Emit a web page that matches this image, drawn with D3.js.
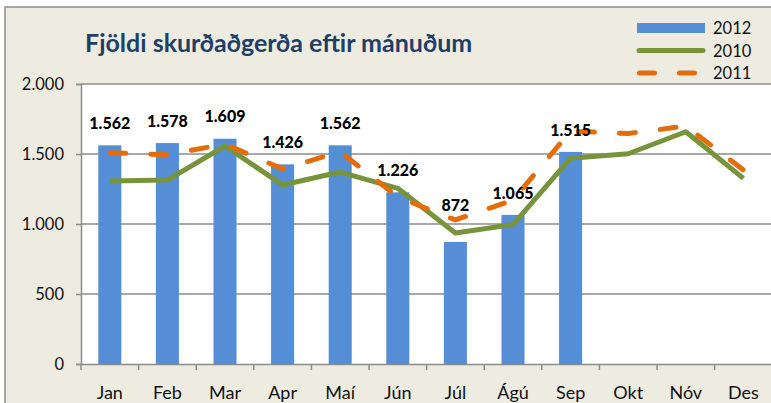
<!DOCTYPE html>
<html>
<head>
<meta charset="utf-8">
<script src="https://cdn.jsdelivr.net/npm/d3@7"></script>
<style>
  body { margin: 0; background: #fff; }
  svg { display: block; font-family: Lato, 'Open Sans', sans-serif; }
</style>
</head>
<body>
<div id="chart"></div>
<script>
const months = ['Jan', 'Feb', 'Mar', 'Apr', 'Maí', 'Jún', 'Júl', 'Ágú', 'Sep', 'Okt', 'Nóv', 'Des'];
const values2012 = [1562, 1578, 1609, 1426, 1562, 1226, 872, 1065, 1515];
const values2010 = [1307, 1314, 1557, 1279, 1371, 1255, 936, 996, 1470, 1502, 1659, 1326];
const values2011 = [1509, 1495, 1571, 1393, 1516, 1193, 1029, 1171, 1664, 1646, 1700, 1386];
const yTicks = [0, 500, 1000, 1500, 2000];
const title = 'Fjöldi skurðaðgerða eftir mánuðum';

const width = 771;
const height = 403;
const plot = { left: 81, top: 84, right: 81 + 12 * 57.6, bottom: 364 };

const fmt = d3.formatLocale({ decimal: ',', thousands: '.', grouping: [3], currency: ['', ''] }).format(',d');

const x = d3
  .scaleBand()
  .domain(months)
  .range([plot.left, plot.right])
  .paddingInner(0.6)
  .paddingOuter(0.3);

const y = d3.scaleLinear().domain([0, 2000]).range([plot.bottom, plot.top]);

const svg = d3
  .select('#chart')
  .append('svg')
  .attr('width', width)
  .attr('height', height);

// chart background + frame
svg.append('rect')
  .attr('x', 5).attr('y', 7)
  .attr('width', width).attr('height', height)
  .attr('fill', '#eeece1')
  .attr('stroke', '#8c8c8c')
  .attr('stroke-width', 1.5);

// plot area
svg.append('rect')
  .attr('x', plot.left).attr('y', plot.top)
  .attr('width', plot.right - plot.left).attr('height', plot.bottom - plot.top)
  .attr('fill', '#fff');

// gridlines
svg.append('g')
  .selectAll('line')
  .data(yTicks.filter((d) => d > 0))
  .join('line')
  .attr('x1', plot.left).attr('x2', plot.right)
  .attr('y1', (d) => y(d)).attr('y2', (d) => y(d))
  .attr('stroke', '#8c8c8c')
  .attr('stroke-width', 1.5);

// y axis
const yAxis = svg.append('g')
  .attr('transform', `translate(${plot.left},0)`)
  .call(d3.axisLeft(y).tickValues(yTicks).tickFormat(fmt).tickSize(5).tickPadding(12));
yAxis.select('.domain').attr('stroke', '#8c8c8c').attr('stroke-width', 1.5);
yAxis.selectAll('.tick line').attr('stroke', '#8c8c8c').attr('stroke-width', 1.5);
yAxis.selectAll('.tick text')
  .attr('font-family', 'Lato, sans-serif')
  .attr('font-size', 16.5)
  .attr('fill', '#111');

// bars
svg.append('g')
  .selectAll('rect')
  .data(values2012)
  .join('rect')
  .attr('x', (d, i) => x(months[i]))
  .attr('y', (d) => y(d))
  .attr('width', x.bandwidth())
  .attr('height', (d) => y(0) - y(d))
  .attr('fill', '#558ed5');

// x axis
const xAxis = svg.append('g')
  .attr('transform', `translate(0,${plot.bottom})`)
  .call(d3.axisBottom(x).tickSize(0).tickPadding(22));
xAxis.select('.domain').attr('stroke', '#8c8c8c').attr('stroke-width', 1.5);
xAxis.selectAll('.tick text')
  .attr('font-family', 'Lato, sans-serif')
  .attr('font-size', 18)
  .attr('fill', '#111');
xAxis.selectAll('.boundary')
  .data(d3.range(months.length + 1))
  .join('line')
  .attr('class', 'boundary')
  .attr('x1', (i) => plot.left + i * x.step())
  .attr('x2', (i) => plot.left + i * x.step())
  .attr('y1', 0).attr('y2', 6)
  .attr('stroke', '#8c8c8c')
  .attr('stroke-width', 1.5);

const cx = (d, i) => x(months[i]) + x.bandwidth() / 2;
const line = d3.line().x(cx).y((d) => y(d));

svg.append('path')
  .datum(values2010)
  .attr('d', line)
  .attr('fill', 'none')
  .attr('stroke', '#77933c')
  .attr('stroke-width', 5)
  .attr('stroke-linejoin', 'round');

svg.append('path')
  .datum(values2011)
  .attr('d', line)
  .attr('fill', 'none')
  .attr('stroke', '#e46c0a')
  .attr('stroke-width', 5)
  .attr('stroke-dasharray', '16,25')
  .attr('stroke-linecap', 'round')
  .attr('stroke-linejoin', 'round');

// data labels (Júl label sits a bit higher in the original)
const labelNudge = { Júl: -15 };
svg.append('g')
  .selectAll('text')
  .data(values2012)
  .join('text')
  .attr('x', cx)
  .attr('y', (d, i) => y(d) - 22 + (labelNudge[months[i]] || 0))
  .attr('dy', '0.35em')
  .attr('text-anchor', 'middle')
  .attr('font-size', 16)
  .attr('font-weight', 900)
  .attr('fill', '#000')
  .text(fmt);

// title
svg.append('text')
  .attr('x', 85)
  .attr('y', 52)
  .attr('font-size', 25)
  .attr('font-weight', 'bold')
  .attr('fill', '#1f3f66')
  .text(title);

// legend
const legend = svg.append('g').attr('transform', 'translate(637,0)');
legend.append('rect')
  .attr('x', 0).attr('y', 23)
  .attr('width', 68).attr('height', 10)
  .attr('fill', '#558ed5');
legend.append('line')
  .attr('x1', 2).attr('x2', 66)
  .attr('y1', 50.5).attr('y2', 50.5)
  .attr('stroke', '#77933c')
  .attr('stroke-width', 5)
  .attr('stroke-linecap', 'round');
legend.append('line')
  .attr('x1', 2.5).attr('x2', 66)
  .attr('y1', 73).attr('y2', 73)
  .attr('stroke', '#e46c0a')
  .attr('stroke-width', 5)
  .attr('stroke-dasharray', '15,25')
  .attr('stroke-linecap', 'round');
legend.selectAll('text.lbl')
  .data(['2012', '2010', '2011'])
  .join('text')
  .attr('class', 'lbl')
  .attr('x', 76)
  .attr('y', (d, i) => [28.5, 51.5, 73.5][i])
  .attr('dy', '0.35em')
  .attr('font-size', 16.5)
  .attr('fill', '#111')
  .text((d) => d);
</script>
</body>
</html>
